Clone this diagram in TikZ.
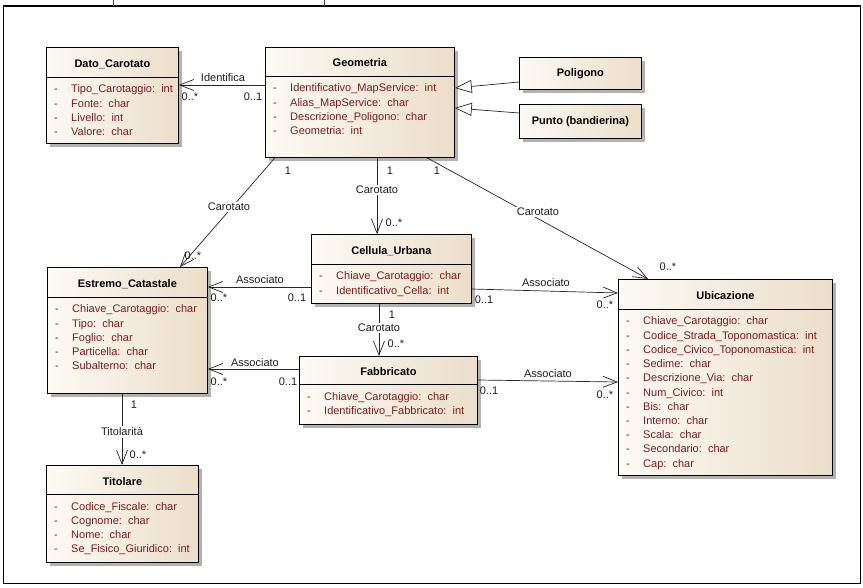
\documentclass[tikz,border=0pt]{standalone}
\usepackage{fontspec}
\setmainfont{Liberation Sans}
\usetikzlibrary{arrows.meta,calc}
\definecolor{boxL}{RGB}{253,250,244}
\definecolor{boxR}{RGB}{235,222,202}
\definecolor{attrc}{RGB}{125,28,28}
\definecolor{shadowc}{RGB}{178,178,178}
\definecolor{txtc}{RGB}{30,30,30}
\newcommand\tsp{\hspace{0.556em}}
\newcommand\umlclass[8]{%
  \fill[shadowc] (#2+4,#3+4) rectangle ++(#4,#5);
  \node[classbox,minimum width=#4pt,minimum height=#5pt] (#1) at (#2,#3) {};
  \draw[boxline] ($(#1.north west)+(0,#6)$) -- ($(#1.north east)+(0,#6)$);
  \node[titletext] (#1-t) at ($(#1.north)+(0,#6/2+5.5)$) {#7};
  \foreach \nm/\ty [count=\i] in {#8}{
    \node[attrtext] (#1-d\i) at ($(#1.north west)+(8,#6+16+\i*14.2-14.2)$) {-};
    \node[attrtext] (#1-a\i) at ($(#1.north west)+(25,#6+16+\i*14.2-14.2)$) {\nm:\tsp\ty};
  }
}
\tikzset{
  classbox/.style={draw,line width=0.8pt,left color=boxL,right color=boxR,anchor=north west,inner sep=0pt},
  boxline/.style={line width=0.8pt},
  titletext/.style={font=\fontsize{11}{13}\selectfont\bfseries,anchor=base,inner sep=0pt},
  attrtext/.style={font=\fontsize{11}{13}\selectfont,text=attrc,anchor=base west,inner sep=0pt},
  lbl/.style={font=\fontsize{11}{13}\selectfont,text=txtc,inner sep=1pt},
  onl/.style={lbl,fill=white,inner sep=1.5pt},
  assoc/.style={line width=0.7pt,draw=black!85,-{Straight Barb[length=14pt,width=11pt]}},
  gen/.style={line width=0.7pt,draw=black!85,-{Triangle[length=17pt,width=13pt,fill=white]}},
}
\begin{document}
\begin{tikzpicture}[x=1pt,y=-1pt]
\useasboundingbox (0,0) rectangle (863,588);
\fill[white] (0,0) rectangle (863,588);
% outer frame
\draw[line width=1pt] (3,6) rectangle (860,583);
\draw[line width=1.4pt] (3,6) -- (860,6);
\draw[line width=0.6pt,black!70] (113,0) -- (113,6);
\draw[line width=0.6pt,black!70] (324,0) -- (324,6);

% classes
\umlclass{dato}{46}{47}{132}{96}{30}{Dato\_Carotato}{Tipo\_Carotaggio/int, Fonte/char, Livello/int, Valore/char}
\umlclass{geo}{265}{47}{189}{110}{29}{Geometria}{Identificativo\_MapService/int, Alias\_MapService/char, Descrizione\_Poligono/char, Geometria/int}
\umlclass{estr}{47}{267}{160}{126}{30}{Estremo\_Catastale}{Chiave\_Carotaggio/char, Tipo/char, Foglio/char, Particella/char, Subalterno/char}
\umlclass{cell}{311}{234}{160}{69}{30}{Cellula\_Urbana}{Chiave\_Carotaggio/char, Identificativo\_Cella/int}
\umlclass{fabb}{299}{356}{178}{68}{28}{Fabbricato}{Chiave\_Carotaggio/char, Identificativo\_Fabbricato/int}
\umlclass{ubic}{618}{279}{214}{196}{30}{Ubicazione}{Chiave\_Carotaggio/char, Codice\_Strada\_Toponomastica/int, Codice\_Civico\_Toponomastica/int, Sedime/char, Descrizione\_Via/char, Num\_Civico/int, Bis/char, Interno/char, Scala/char, Secondario/char, Cap/char}
\umlclass{tit}{46}{465}{152}{97}{29}{Titolare}{Codice\_Fiscale/char, Cognome/char, Nome/char, Se\_Fisico\_Giuridico/int}

% subclasses
\fill[shadowc] (523,61) rectangle ++(122,32);
\node[classbox,minimum width=122pt,minimum height=32pt,font=\fontsize{11}{13}\selectfont\bfseries] (pol) at (519,57) {Poligono};
\fill[shadowc] (523,108) rectangle ++(122,34);
\node[classbox,minimum width=122pt,minimum height=34pt,font=\fontsize{11}{13}\selectfont\bfseries] (punto) at (519,104) {Punto (bandierina)};

% generalizations
\draw[gen] ($(pol.north west)+(0,25)$) -- ($(geo.north east)+(0,41)$);
\draw[gen] ($(punto.north west)+(0,9)$) -- ($(geo.north east)+(0,61)$);

% Identifica
\draw[assoc] ($(geo.north west)+(0,38)$) -- ($(dato.north east)+(0,38)$);
\node[lbl] (l-ident) at (223,78) {Identifica};
\node[lbl] (m-ident1) at (190,97) {0..*};
\node[lbl] (m-ident2) at (253,97) {0..1};

% Geometria -> Estremo
\draw[assoc] ($(geo.south west)+(10,0)$) -- ($(estr.north west)+(133,0)$);
\node[onl] (l-c1) at (229,207) {Carotato};
\node[lbl] (m-c1a) at (288,171) {1};
\node[lbl] (m-c1b) at (193,256) {0..*};

% Geometria -> Cellula
\draw[assoc] ($(geo.south west)+(112,0)$) -- ($(cell.north west)+(66,0)$);
\node[onl] (l-c2) at (377,190) {Carotato};
\node[lbl] (m-c2a) at (390,171) {1};
\node[lbl] (m-c2b) at (394,223) {0..*};

% Geometria -> Ubicazione
\draw[assoc] ($(geo.south west)+(162,0)$) -- ($(ubic.north west)+(30,0)$);
\node[onl] (l-c3) at (538,212) {Carotato};
\node[lbl] (m-c3a) at (437,171) {1};
\node[lbl] (m-c3b) at (668,267) {0..*};

% Cellula -> Estremo
\draw[assoc] ($(cell.north west)+(0,53)$) -- ($(estr.north east)+(0,20)$);
\node[lbl] (l-a1) at (260,280) {Associato};
\node[lbl] (m-a1a) at (219,298) {0..*};
\node[lbl] (m-a1b) at (297,298) {0..1};

% Cellula -> Ubicazione
\draw[assoc] ($(cell.north east)+(0,55)$) -- ($(ubic.north west)+(0,14)$);
\node[lbl] (l-a2) at (546,283) {Associato};
\node[lbl] (m-a2a) at (484,300) {0..1};
\node[lbl] (m-a2b) at (605,305) {0..*};

% Fabbricato -> Estremo
\draw[assoc] ($(fabb.north west)+(0,13)$) -- ($(estr.north east)+(0,102)$);
\node[lbl] (l-a3) at (255,363) {Associato};
\node[lbl] (m-a3a) at (219,382) {0..*};
\node[lbl] (m-a3b) at (288,382) {0..1};

% Fabbricato -> Ubicazione
\draw[assoc] ($(fabb.north east)+(0,24)$) -- ($(ubic.north west)+(0,103)$);
\node[lbl] (l-a4) at (548,374) {Associato};
\node[lbl] (m-a4a) at (489,391) {0..1};
\node[lbl] (m-a4b) at (605,395) {0..*};

% Cellula -> Fabbricato
\draw[assoc] ($(cell.south west)+(68,0)$) -- ($(fabb.north west)+(80,0)$);
\node[onl] (l-c4) at (379,328) {Carotato};
\node[lbl] (m-c4a) at (392,315) {1};
\node[lbl] (m-c4b) at (396,344) {0..*};

% Estremo -> Titolare
\draw[assoc] ($(estr.south west)+(75,0)$) -- ($(tit.north west)+(76,0)$);
\node[onl] (l-t) at (122,432) {Titolarità};
\node[lbl] (m-ta) at (134,405) {1};
\node[lbl] (m-tb) at (138,455) {0..*};
\end{tikzpicture}
\end{document}
